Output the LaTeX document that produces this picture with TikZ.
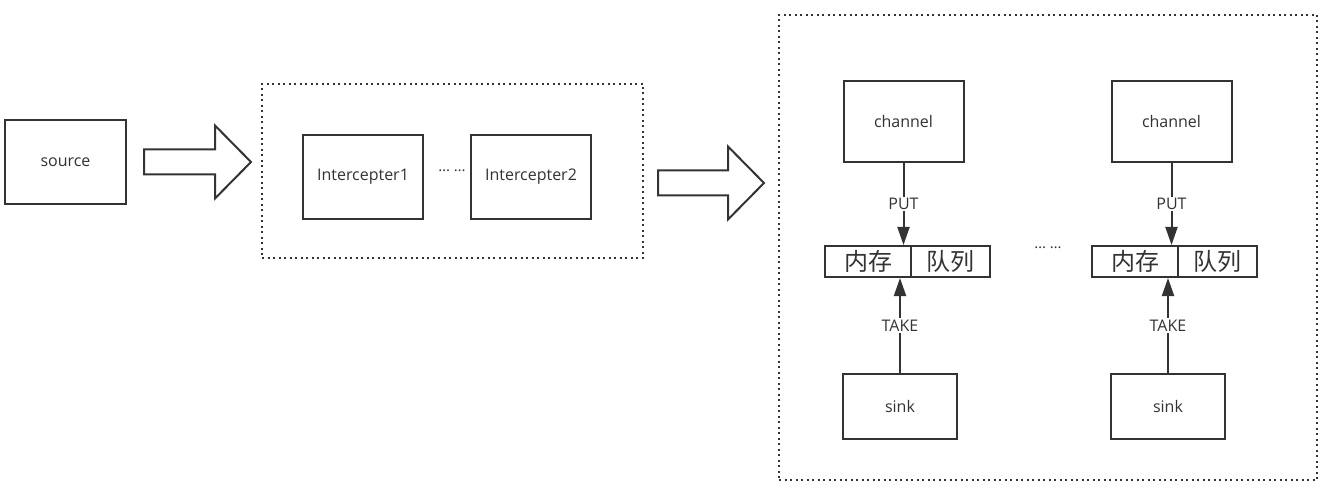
\documentclass[tikz,border=0pt]{standalone}
\usepackage{fontspec}
\setmainfont{Open Sans}
\newfontfamily\cjkfont{Noto Sans CJK SC}
\usepackage{tikz}
\usetikzlibrary{positioning,arrows.meta,calc}
\definecolor{cLine}{HTML}{333333}
\definecolor{cText}{HTML}{333333}
\tikzset{
  fig/box/.style   ={draw=cLine, line width=2pt, fill=white, inner sep=0pt,
                     font=\fontsize{16}{19}\selectfont, text=cText},
  fig/group/.style ={draw=cLine, line width=2pt, dash pattern=on 2pt off 3.5pt,
                     inner sep=0pt},
  fig/queue/.style ={fig/box, minimum height=31pt,
                     font=\cjkfont\fontsize{24}{26}\selectfont},
  fig/arr/.style   ={-{Triangle[length=18pt, width=12pt]}, line width=2pt, cLine},
  fig/lbl/.style   ={fill=white, inner sep=1.5pt, text=cText,
                     font=\fontsize{16}{18}\selectfont},
  fig/dots/.style  ={text=cText, font=\fontsize{15}{17}\selectfont},
  fig/fat/.style   ={draw=cLine, line width=2pt, fill=white, line join=miter}
}
% hollow block arrow from one point to another (same height)
\newcommand{\fatarrow}[2]{%
  \draw[fig/fat] let \p1=(#1), \p2=(#2) in
    (\x1,\y1+12.5pt) -- (\x2-36pt,\y1+12.5pt) -- (\x2-36pt,\y1+36.5pt)
    -- (\x2,\y1) -- (\x2-36pt,\y1-36.5pt) -- (\x2-36pt,\y1-12.5pt)
    -- (\x1,\y1-12.5pt) -- cycle;}

\begin{document}
\begin{tikzpicture}[x=1pt, y=-1pt]
    \useasboundingbox (0,0) rectangle (1330,494);

    % source
    \node[fig/box, minimum width=121pt, minimum height=84pt] (source) at (65.5,162) {source};

    % interceptor chain
    \node[fig/group, minimum width=381pt, minimum height=174pt] (grp1) at (452.5,171) {};
    \node[fig/box, minimum width=120pt, minimum height=84pt] (int1) at (363,177) {Intercepter1};
    \node[fig/box, minimum width=120pt, minimum height=84pt] (int2) at (531,177) {Intercepter2};
    \node[fig/dots] (dots1) at (452,171) {… …};

    % channels and sinks
    \node[fig/group, minimum width=538pt, minimum height=465pt] (grp2) at (1048,247.5) {};
    \foreach \i/\xc/\xs/\xm/\xq in {1/903.5/900/868/950, 2/1171.5/1168/1135/1217.5} {
      \node[fig/box, minimum width=120pt, minimum height=81pt] (chan\i) at (\xc,121.5) {channel};
      \node[fig/queue, minimum width=86pt] (mem\i) at (\xm,261.5) {内存};
      \node[fig/queue, minimum width=79pt] (que\i) at (\xq,261.5) {队列};
      \node[fig/box, minimum width=114pt, minimum height=65pt] (sink\i) at (\xs,406.5) {sink};
      \draw[fig/arr] (chan\i.south) -- node[fig/lbl] {PUT} (chan\i.south |- mem\i.north);
      \draw[fig/arr] (sink\i.north) -- node[fig/lbl] {TAKE} (sink\i.north |- mem\i.south);
    }
    \node[fig/dots] (dots2) at (1048,248) {… …};

    % block arrows between the stages
    \coordinate (a1s) at ($(source.east)+(17,0)$);
    \coordinate (a1e) at ($(grp1.west |- source.east)+(-10,0)$);
    \coordinate (a2s) at ($(grp1.east)+(14,12)$);
    \coordinate (a2e) at ($(grp2.west |- a2s)+(-14,0)$);
    \fatarrow{a1s}{a1e}
    \fatarrow{a2s}{a2e}
\end{tikzpicture}
\end{document}
